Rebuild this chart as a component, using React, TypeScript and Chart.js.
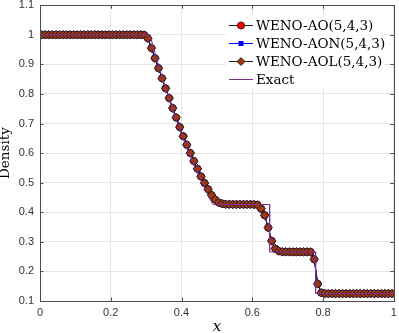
import React, { useEffect, useRef } from "react";
import { Chart, registerables } from "chart.js";
Chart.register(...registerables);

// cell centres
const cellX = [
  0.005, 0.015, 0.025, 0.035, 0.045, 0.055, 0.065, 0.075, 0.085, 0.095,
  0.105, 0.115, 0.125, 0.135, 0.145, 0.155, 0.165, 0.175, 0.185, 0.195,
  0.205, 0.215, 0.225, 0.235, 0.245, 0.255, 0.265, 0.275, 0.285, 0.295,
  0.305, 0.315, 0.325, 0.335, 0.345, 0.355, 0.365, 0.375, 0.385, 0.395,
  0.405, 0.415, 0.425, 0.435, 0.445, 0.455, 0.465, 0.475, 0.485, 0.495,
  0.505, 0.515, 0.525, 0.535, 0.545, 0.555, 0.565, 0.575, 0.585, 0.595,
  0.605, 0.615, 0.625, 0.635, 0.645, 0.655, 0.665, 0.675, 0.685, 0.695,
  0.705, 0.715, 0.725, 0.735, 0.745, 0.755, 0.765, 0.775, 0.785, 0.795,
  0.805, 0.815, 0.825, 0.835, 0.845, 0.855, 0.865, 0.875, 0.885, 0.895,
  0.905, 0.915, 0.925, 0.935, 0.945, 0.955, 0.965, 0.975, 0.985, 0.995,
];

const wenoAO = [
  1.0, 1.0, 1.0, 1.0, 1.0, 1.0, 1.0, 1.0, 1.0, 1.0,
  1.0, 1.0, 1.0, 1.0, 1.0, 1.0, 1.0, 1.0, 1.0, 1.0,
  1.0, 1.0, 1.0, 1.0, 1.0, 1.0, 1.0, 1.0, 1.0, 0.999,
  0.988, 0.955, 0.921, 0.887, 0.853, 0.819, 0.786, 0.752, 0.72, 0.688,
  0.657, 0.628, 0.6, 0.573, 0.547, 0.521, 0.499, 0.478, 0.458, 0.443,
  0.433, 0.429, 0.427, 0.4268, 0.4266, 0.4265, 0.4265, 0.4265, 0.4265, 0.4265,
  0.4262, 0.425, 0.412, 0.39, 0.348, 0.303, 0.277, 0.269, 0.2665, 0.2662,
  0.2661, 0.266, 0.266, 0.266, 0.266, 0.266, 0.2658, 0.241, 0.158, 0.128,
  0.1252, 0.125, 0.125, 0.125, 0.125, 0.125, 0.125, 0.125, 0.125, 0.125,
  0.125, 0.125, 0.125, 0.125, 0.125, 0.125, 0.125, 0.125, 0.125, 0.125,
];

const wenoAON = [
  1.0, 1.0, 1.0, 1.0, 1.0, 1.0, 1.0, 1.0, 1.0, 1.0,
  1.0, 1.0, 1.0, 1.0, 1.0, 1.0, 1.0, 1.0, 1.0, 1.0,
  1.0, 1.0, 1.0, 1.0, 1.0, 1.0, 1.0, 1.0, 1.0, 0.999,
  0.988, 0.955, 0.921, 0.887, 0.853, 0.819, 0.786, 0.752, 0.72, 0.688,
  0.657, 0.628, 0.6, 0.573, 0.547, 0.521, 0.499, 0.478, 0.458, 0.443,
  0.433, 0.429, 0.427, 0.4268, 0.4266, 0.4265, 0.4265, 0.4265, 0.4265, 0.4265,
  0.4262, 0.425, 0.412, 0.39, 0.348, 0.303, 0.277, 0.269, 0.2665, 0.2662,
  0.2661, 0.266, 0.266, 0.266, 0.266, 0.266, 0.2658, 0.241, 0.158, 0.128,
  0.1252, 0.125, 0.125, 0.125, 0.125, 0.125, 0.125, 0.125, 0.125, 0.125,
  0.125, 0.125, 0.125, 0.125, 0.125, 0.125, 0.125, 0.125, 0.125, 0.125,
];

const wenoAOL = [
  1.0, 1.0, 1.0, 1.0, 1.0, 1.0, 1.0, 1.0, 1.0, 1.0,
  1.0, 1.0, 1.0, 1.0, 1.0, 1.0, 1.0, 1.0, 1.0, 1.0,
  1.0, 1.0, 1.0, 1.0, 1.0, 1.0, 1.0, 1.0, 1.0, 0.999,
  0.988, 0.955, 0.921, 0.887, 0.853, 0.819, 0.786, 0.752, 0.72, 0.688,
  0.657, 0.628, 0.6, 0.573, 0.547, 0.521, 0.499, 0.478, 0.458, 0.443,
  0.433, 0.429, 0.427, 0.4268, 0.4266, 0.4265, 0.4265, 0.4265, 0.4265, 0.4265,
  0.4262, 0.425, 0.412, 0.39, 0.348, 0.303, 0.277, 0.269, 0.2665, 0.2662,
  0.2661, 0.266, 0.266, 0.266, 0.266, 0.266, 0.2658, 0.241, 0.158, 0.128,
  0.1252, 0.125, 0.125, 0.125, 0.125, 0.125, 0.125, 0.125, 0.125, 0.125,
  0.125, 0.125, 0.125, 0.125, 0.125, 0.125, 0.125, 0.125, 0.125, 0.125,
];

const exactX = [0, 0.3107, 0.32, 0.34, 0.36, 0.38, 0.4, 0.42, 0.44, 0.46, 0.48, 0.4888, 0.649, 0.649, 0.779, 0.779, 1];
const exactRho = [1, 1, 0.9597, 0.8774, 0.801, 0.73, 0.664, 0.603, 0.5464, 0.4943, 0.4462, 0.4263, 0.4263, 0.2656, 0.2656, 0.125, 0.125];

const xTickValues = [0, 0.2, 0.4, 0.6, 0.8, 1];
const xTickLabels = ["0", "0.2", "0.4", "0.6", "0.8", "1"];
const yTickValues = [0.1, 0.2, 0.3, 0.4, 0.5, 0.6, 0.7, 0.8, 0.9, 1, 1.1];
const yTickLabels = ["0.1", "0.2", "0.3", "0.4", "0.5", "0.6", "0.7", "0.8", "0.9", "1", "1.1"];

const seriesLabels = ["WENO-AO(5,4,3)", "WENO-AON(5,4,3)", "WENO-AOL(5,4,3)", "Exact"];

const AXIS_COLOR = "#4d4d4d";
const GRID_COLOR = "#e6e6e6";
const AO_FACE = "#ff0000";
const AON_COLOR = "#0000ff";
const AOL_FACE = "#a0380c";
const EXACT_COLOR = "#7e2f8e";
const SERIF = "'DejaVu Serif', serif";

const framePlugin = {
  id: "frame",
  afterDatasetsDraw(chart: any) {
    const ctx = chart.ctx;
    const a = chart.chartArea;
    const xs = chart.scales.x;
    const ys = chart.scales.y;
    ctx.save();
    // inward ticks
    ctx.strokeStyle = AXIS_COLOR;
    ctx.lineWidth = 1;
    const tl = 3.5;
    ctx.beginPath();
    xTickValues.forEach((v) => {
      const px = Math.round(xs.getPixelForValue(v)) + 0.5;
      ctx.moveTo(px, a.bottom);
      ctx.lineTo(px, a.bottom - tl);
      ctx.moveTo(px, a.top);
      ctx.lineTo(px, a.top + tl);
    });
    yTickValues.forEach((v) => {
      const py = Math.round(ys.getPixelForValue(v)) + 0.5;
      ctx.moveTo(a.left, py);
      ctx.lineTo(a.left + tl, py);
      ctx.moveTo(a.right, py);
      ctx.lineTo(a.right - tl, py);
    });
    ctx.stroke();
    // box
    ctx.strokeRect(Math.round(a.left) + 0.5, Math.round(a.top) + 0.5, Math.round(a.right - a.left), Math.round(a.bottom - a.top));

    // legend
    const lx0 = 226;
    const ly0 = 15;
    ctx.fillStyle = "#ffffff";
    ctx.fillRect(lx0, ly0, 158, 73);
    const rows = [25, 43, 61, 79];
    const lineX1 = 229;
    const lineX2 = 253;
    const mx = 241;
    ctx.font = "13.5px " + SERIF;
    ctx.textBaseline = "middle";
    rows.forEach((ry, i) => {
      ctx.lineWidth = 1;
      ctx.strokeStyle = i === 0 || i === 2 ? "#222222" : i === 1 ? AON_COLOR : EXACT_COLOR;
      ctx.beginPath();
      ctx.moveTo(lineX1, ry + 0.5);
      ctx.lineTo(lineX2, ry + 0.5);
      ctx.stroke();
      if (i === 0) {
        ctx.beginPath();
        ctx.arc(mx, ry + 0.5, 3.6, 0, Math.PI * 2);
        ctx.fillStyle = AO_FACE;
        ctx.fill();
        ctx.strokeStyle = "#111111";
        ctx.lineWidth = 0.8;
        ctx.stroke();
      } else if (i === 1) {
        ctx.fillStyle = AON_COLOR;
        ctx.fillRect(mx - 2.5, ry - 2, 5, 5);
      } else if (i === 2) {
        ctx.beginPath();
        ctx.moveTo(mx - 4, ry + 0.5);
        ctx.lineTo(mx, ry - 3.5);
        ctx.lineTo(mx + 4, ry + 0.5);
        ctx.lineTo(mx, ry + 4.5);
        ctx.closePath();
        ctx.fillStyle = AOL_FACE;
        ctx.fill();
        ctx.strokeStyle = "#111111";
        ctx.lineWidth = 0.8;
        ctx.stroke();
      }
      ctx.fillStyle = "#000000";
      ctx.fillText(seriesLabels[i], 256, ry + 1);
    });
    ctx.restore();
  },
};

export default function App() {
  const ref = useRef<HTMLCanvasElement | null>(null);
  useEffect(() => {
    document.body.style.margin = "0";
    const canvas = ref.current;
    if (!canvas) return;
    const pts = (ys: number[]) => cellX.map((x, i) => ({ x, y: ys[i] }));
    const chart = new Chart(canvas, {
      type: "line",
      data: {
        datasets: [
          {
            label: seriesLabels[0],
            data: pts(wenoAO),
            borderColor: "#222222",
            borderWidth: 1,
            pointStyle: "circle",
            pointRadius: 3.6,
            pointBackgroundColor: AO_FACE,
            pointBorderColor: "#111111",
            pointBorderWidth: 0.8,
            order: 3,
          },
          {
            label: seriesLabels[1],
            data: pts(wenoAON),
            borderColor: AON_COLOR,
            borderWidth: 1,
            pointStyle: "rect",
            pointRadius: 3.5,
            pointBackgroundColor: AON_COLOR,
            pointBorderColor: AON_COLOR,
            pointBorderWidth: 0.5,
            order: 2,
          },
          {
            label: seriesLabels[2],
            data: pts(wenoAOL),
            borderColor: "#222222",
            borderWidth: 1,
            pointStyle: "rectRot",
            pointRadius: 4.3,
            pointBackgroundColor: AOL_FACE,
            pointBorderColor: "#1a1a33",
            pointBorderWidth: 0.9,
            order: 1,
          },
          {
            label: seriesLabels[3],
            data: exactX.map((x, i) => ({ x, y: exactRho[i] })),
            borderColor: EXACT_COLOR,
            borderWidth: 1,
            pointRadius: 0,
            order: 0,
          },
        ],
      },
      options: {
        responsive: false,
        animation: false,
        devicePixelRatio: 1,
        layout: { padding: { top: 5, right: 3, left: 0, bottom: 0 } },
        plugins: { legend: { display: false }, tooltip: { enabled: false } },
        elements: { line: { tension: 0 } },
        scales: {
          x: {
            type: "linear",
            min: 0,
            max: 1,
            afterBuildTicks: (s: any) => {
              s.ticks = xTickValues.map((v) => ({ value: v }));
            },
            afterFit: (s: any) => {
              s.height = 32;
              s.paddingLeft = 0;
              s.paddingRight = 0;
            },
            grid: { color: GRID_COLOR, drawTicks: false, lineWidth: 1 },
            border: { display: false },
            ticks: {
              padding: 5,
              color: "#333333",
              font: { family: "'Liberation Sans', Arial, sans-serif", size: 11 },
              maxRotation: 0,
              autoSkip: false,
              callback: (_v: any, i: number) => xTickLabels[i],
            },
            title: {
              display: true,
              text: "x",
              color: "#000000",
              padding: { top: 0, bottom: -3 },
              font: { family: SERIF, size: 15, style: "italic" },
            },
          },
          y: {
            type: "linear",
            min: 0.1,
            max: 1.1,
            afterBuildTicks: (s: any) => {
              s.ticks = yTickValues.map((v) => ({ value: v }));
            },
            afterFit: (s: any) => {
              s.width = 40;
              s.paddingTop = 0;
              s.paddingBottom = 0;
            },
            grid: { color: GRID_COLOR, drawTicks: false, lineWidth: 1 },
            border: { display: false },
            ticks: {
              padding: 6,
              color: "#333333",
              font: { family: "'Liberation Sans', Arial, sans-serif", size: 11 },
              autoSkip: false,
              callback: (_v: any, i: number) => yTickLabels[i],
            },
            title: {
              display: true,
              text: "Density",
              color: "#000000",
              padding: { top: -3, bottom: 0 },
              font: { family: SERIF, size: 13.5 },
            },
          },
        },
      },
      plugins: [framePlugin],
    });
    return () => chart.destroy();
  }, []);
  return <canvas ref={ref} width={399} height={333} style={{ display: "block", width: 399, height: 333 }} />;
}
